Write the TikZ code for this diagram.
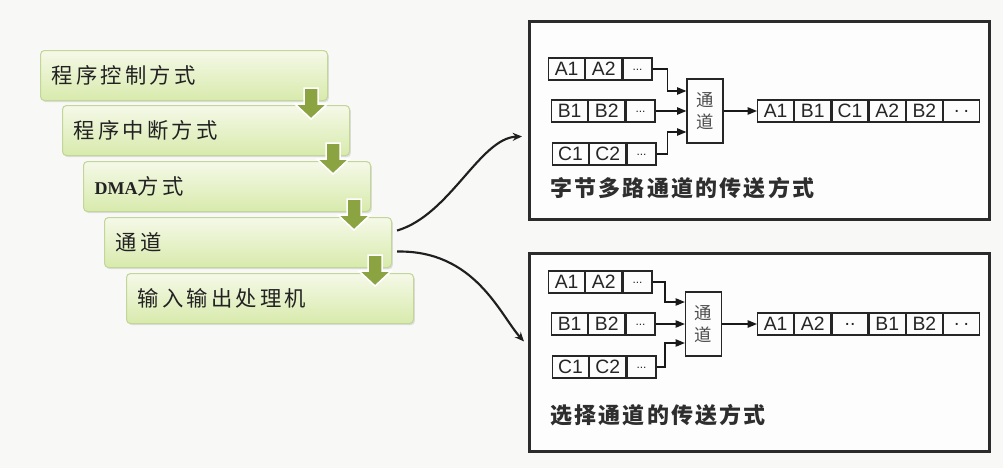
\documentclass[tikz,border=0pt]{standalone}
\usepackage{fontspec}
\setmainfont{Liberation Sans}
\newfontfamily\cjk{Noto Sans CJK SC}
\newfontfamily\cjkls[LetterSpace=15]{Noto Sans CJK SC}
\newfontfamily\cjkcap[LetterSpace=10]{Noto Sans CJK SC}
\newfontfamily\serifl{Liberation Serif}
\usetikzlibrary{arrows.meta,shadows,calc}
\definecolor{bg}{HTML}{F8F9F7}
\definecolor{gtop}{HTML}{F5F9E8}
\definecolor{gbot}{HTML}{D8EAAC}
\definecolor{boxedge}{HTML}{C3D69A}
\definecolor{garrow}{HTML}{8BA340}
\definecolor{panelline}{HTML}{2B2B2B}
\definecolor{txt}{HTML}{222222}
\tikzset{
  lbox/.style={draw=boxedge, line width=0.8pt, rounded corners=3pt,
    top color=gtop, bottom color=gbot, anchor=north west,
    minimum height=37.5pt, text width=198.75pt, inner xsep=8.25pt, inner ysep=0pt,
    align=left, text=txt, font=\cjkls\fontsize{16}{19}\selectfont,
    drop shadow={shadow xshift=1pt, shadow yshift=-1.2pt, opacity=0.22}},
  greenarrow/.style={fill=garrow, draw=white, line width=1.2pt, line join=miter},
  panel/.style={draw=panelline, line width=2.2pt, fill=white!60!bg, anchor=north west,
    minimum width=345pt, minimum height=148.5pt, inner sep=0pt},
  cell/.style={draw=black!85, line width=0.9pt, minimum width=27pt, minimum height=16.5pt,
    inner sep=0pt, anchor=west, text=black!85, font=\fontsize{14.5}{15}\selectfont},
  dcell/.style={cell, minimum width=21.75pt},
  chan/.style={draw=black!85, line width=0.9pt, minimum width=27pt, minimum height=48pt,
    inner sep=0pt, align=center, text=black!70, font=\cjk\fontsize{13}{16.5}\selectfont},
  conn/.style={draw=black!90, line width=1.1pt, -{Triangle[length=7pt,width=5.5pt]}},
  curve/.style={draw=black!88, line width=1.6pt, -{Stealth[length=7pt,width=6pt]}},
  captext/.style={anchor=west, inner sep=0pt, text=black!82, font=\cjkcap\bfseries\fontsize{16.5}{18}\selectfont}
}
\newcommand{\smalldots}{\raisebox{-1.5pt}{\fontsize{9}{10}\selectfont ...}}
\begin{document}
\begin{tikzpicture}[x=0.75pt,y=-0.75pt]
\useasboundingbox (0,0) rectangle (1003,468);
\fill[bg] (0,0) rectangle (1003,468);

% left cascade of boxes
\node[lbox] (b1) at (40,50)  {程序控制方式};
\node[lbox] (b2) at (62,105) {程序中断方式};
\node[lbox] (b3) at (83,161) {{\serifl\bfseries\fontsize{13.5}{16}\selectfont DMA}方式};
\node[lbox] (b4) at (104,217) {通道};
\node[lbox] (b5) at (126,273) {输入输出处理机};

% green down arrows
\foreach \a in {b1,b2,b3,b4}{
  \coordinate (t) at ($(\a.south east)+(-17,-13)$);
  \draw[greenarrow] ($(t)+(-7,0)$) -- ($(t)+(7,0)$) -- ($(t)+(7,16)$) -- ($(t)+(16,16)$)
     -- ($(t)+(0,31)$) -- ($(t)+(-16,16)$) -- ($(t)+(-7,16)$) -- cycle;
}

% panels
\node[panel] (p1) at (528,20) {};
\node[panel] (p2) at (528,252) {};

% ---- top panel: byte multiplexer
\node[cell] (tA1) at (548,69) {A1};
\node[cell] (tA2) at (tA1.east) {A2};
\node[dcell] (tA3) at (tA2.east) {\smalldots};
\node[cell] (tB1) at (551,111) {B1};
\node[cell] (tB2) at (tB1.east) {B2};
\node[dcell] (tB3) at (tB2.east) {\smalldots};
\node[cell] (tC1) at (552,154) {C1};
\node[cell] (tC2) at (tC1.east) {C2};
\node[dcell] (tC3) at (tC2.east) {\smalldots};
\node[chan] (ch1) at (705,111) {通\\道};
\node[cell] (tO1) at (757,111) {A1};
\node[cell] (tO2) at (tO1.east) {B1};
\node[cell] (tO3) at (tO2.east) {C1};
\node[cell] (tO4) at (tO3.east) {A2};
\node[cell] (tO5) at (tO4.east) {B2};
\node[cell] (tO6) at (tO5.east) {.\hspace{3pt}.};
\draw[conn] (tA3.east) -| ($(ch1.west)+(-19,-20)$) -- ($(ch1.west)+(0,-20)$);
\draw[conn] (tB3.east) -- (ch1.west);
\draw[conn] (tC3.east) -| ($(ch1.west)+(-19,21)$) -- ($(ch1.west)+(0,21)$);
\draw[conn] (ch1.east) -- (tO1.west);
\node[captext] (cap1) at (550,188) {字节多路通道的传送方式};

% ---- bottom panel: selector channel
\node[cell] (bA1) at (548,282) {A1};
\node[cell] (bA2) at (bA1.east) {A2};
\node[dcell] (bA3) at (bA2.east) {\smalldots};
\node[cell] (bB1) at (551,324) {B1};
\node[cell] (bB2) at (bB1.east) {B2};
\node[dcell] (bB3) at (bB2.east) {\smalldots};
\node[cell] (bC1) at (552,367) {C1};
\node[cell] (bC2) at (bC1.east) {C2};
\node[dcell] (bC3) at (bC2.east) {\smalldots};
\node[chan] (ch2) at (703.5,324) {通\\道};
\node[cell] (bO1) at (757,324) {A1};
\node[cell] (bO2) at (bO1.east) {A2};
\node[cell] (bO3) at (bO2.east) {..};
\node[cell] (bO4) at (bO3.east) {B1};
\node[cell] (bO5) at (bO4.east) {B2};
\node[cell] (bO6) at (bO5.east) {.\hspace{3pt}.};
\draw[conn] (bA3.east) -| ($(ch2.west)+(-20,-22)$) -- ($(ch2.west)+(0,-22)$);
\draw[conn] (bB3.east) -- (ch2.west);
\draw[conn] (bC3.east) -| ($(ch2.west)+(-20,19)$) -- ($(ch2.west)+(0,19)$);
\draw[conn] (ch2.east) -- (bO1.west);
\node[captext] (cap2) at (550,415) {选择通道的传送方式};

% curved connectors from 通道 box to the panels
\draw[curve] ($(b4.east)+(5,-12)$) .. controls (450,215) and (480,138) .. ($(p1.west)+(-6,16)$);
\draw[curve] ($(b4.east)+(5,9)$) .. controls (475,250) and (500,315) .. ($(p2.west)+(-4,-11)$);
\end{tikzpicture}
\end{document}
